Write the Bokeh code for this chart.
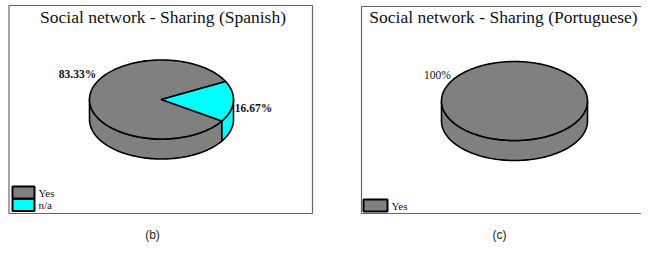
import numpy as np
from bokeh.plotting import figure
from bokeh.models import Range1d
from bokeh.core.properties import value
from bokeh.embed import file_html
from bokeh.resources import INLINE

# ---- data ----
titles = ["Social network - Sharing (Spanish)", "Social network - Sharing (Portuguese)"]
spanish_labels = ["Yes", "n/a"]
spanish_values = [83.33, 16.67]
portuguese_labels = ["Yes"]
portuguese_values = [100.0]
captions = ["(b)", "(c)"]

colors = {"Yes": "#808080", "n/a": "#00FFFF"}

W, H = 641, 242
p = figure(width=W, height=H, output_backend="svg", toolbar_location=None,
           x_range=Range1d(0, W), y_range=Range1d(H, 0), min_border=0)
p.axis.visible = False
p.xgrid.visible = False
p.ygrid.visible = False
p.outline_line_color = None
p.background_fill_color = "white"

SERIF = value("Liberation Serif")
SANS = value("Liberation Sans")

# frames
p.patch([8.5, 312, 312, 8.5], [5, 5, 213, 213], fill_color="white",
        line_color="#666666", line_width=1.2)
p.patch([361, 660, 660, 361], [6, 6, 213, 213], fill_color="white",
        line_color="#666666", line_width=1.2)


def pt(cx, cy, rx, ry, t):
    return cx + rx * np.cos(t), cy - ry * np.sin(t)


def draw_pie(cx, cy, rx, ry, depth, labels, vals, start_deg):
    vals = np.asarray(vals, dtype=float)
    fr = vals / vals.sum()
    spans = fr * 360.0
    starts = start_deg + np.concatenate([[0], np.cumsum(spans)[:-1]])
    side_xs, side_ys, side_c = [], [], []
    top_xs, top_ys, top_c = [], [], []
    for lab, a, s in zip(labels, starts, spans):
        b = a + s
        for k in range(-2, 3):
            lo = max(a, 180 + 360 * k)
            hi = min(b, 360 + 360 * k)
            if hi > lo:
                t = np.radians(np.linspace(lo, hi, 80))
                x, y = pt(cx, cy, rx, ry, t)
                xs = np.concatenate([x, x[::-1]])
                ys = np.concatenate([y, (y + depth)[::-1]])
                side_xs.append(list(xs)); side_ys.append(list(ys)); side_c.append(colors[lab])
        t = np.radians(np.linspace(a, b, 200))
        x, y = pt(cx, cy, rx, ry, t)
        if s < 359.99:
            x = np.concatenate([[cx], x]); y = np.concatenate([[cy], y])
        top_xs.append(list(x)); top_ys.append(list(y)); top_c.append(colors[lab])
    p.patches(side_xs, side_ys, fill_color=side_c, line_color="black", line_width=1.6,
              line_join="round")
    p.patches(top_xs, top_ys, fill_color=top_c, line_color="black", line_width=1.6,
              line_join="round")


draw_pie(161, 99, 72, 39.5, 20, spanish_labels, spanish_values, 27)
draw_pie(514, 100.5, 73, 39.5, 20, portuguese_labels, portuguese_values, 90)

# titles
p.text(x=[162.5, 503], y=[16.5, 16.5], text=titles, text_font=SERIF,
       text_font_size="17.5px", text_align="center", text_baseline="middle", text_color="#111111")

# value labels
sp_txt = ["%.2f%%" % v for v in spanish_values]
p.text(x=[77, 253], y=[73, 107], text=sp_txt, text_font=SERIF, text_font_style="bold",
       text_font_size="11.5px", text_align="center", text_baseline="middle", text_color="#111111")
pt_txt = ["%d%%" % v for v in portuguese_values]
p.text(x=[437], y=[74], text=pt_txt, text_font=SERIF,
       text_font_size="11.5px", text_align="center", text_baseline="middle", text_color="#111111")

# legends
ly = [192, 204.5]
p.rect(x=[23, 23], y=ly, width=22, height=12, fill_color=[colors[l] for l in spanish_labels],
       line_color="black", line_width=2)
p.text(x=[38, 38], y=ly, text=spanish_labels, text_font=SERIF, text_font_size="11px",
       text_align="left", text_baseline="middle", text_color="#111111")
p.rect(x=[375], y=[205], width=24, height=12, fill_color=[colors[l] for l in portuguese_labels],
       line_color="black", line_width=2)
p.text(x=[391], y=[205], text=portuguese_labels, text_font=SERIF, text_font_size="11px",
       text_align="left", text_baseline="middle", text_color="#111111")

# captions
p.text(x=[152, 499], y=[234, 234], text=captions, text_font=SANS, text_font_size="12px",
       text_align="center", text_baseline="middle", text_color="#222222")

open("out.html", "w").write(file_html(p, INLINE))
